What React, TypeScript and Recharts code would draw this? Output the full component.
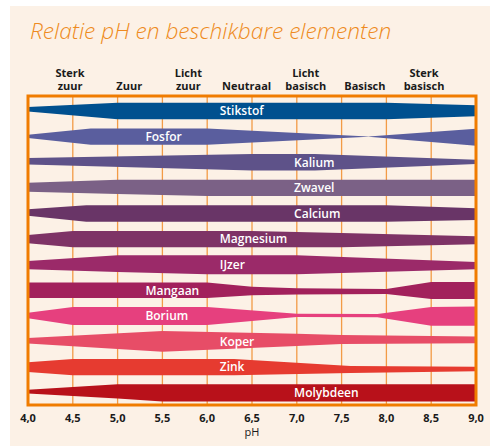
import React from 'react';
import { ComposedChart, Area, XAxis, YAxis, CartesianGrid, ReferenceArea, ReferenceDot } from 'recharts';

const phTicks = [4, 4.5, 5, 5.5, 6, 6.5, 7, 7.5, 8, 8.5, 9];
const zoneNames = [['Sterk', 'zuur'], ['Zuur'], ['Licht', 'zuur'], ['Neutraal'], ['Licht', 'basisch'], ['Basisch'], ['Sterk', 'basisch']];
const zonePH = [4.47, 5.13, 5.79, 6.44, 7.1, 7.76, 8.42];

const elements = ['Stikstof', 'Fosfor', 'Kalium', 'Zwavel', 'Calcium', 'Magnesium', 'IJzer', 'Mangaan', 'Borium', 'Koper', 'Zink', 'Molybdeen'];
const labelPH = [6.14, 5.31, 6.97, 6.97, 6.97, 6.14, 6.14, 5.31, 5.31, 6.14, 6.14, 6.97];
const colors = ['#00508f', '#5a5e9e', '#5e5289', '#7b6186', '#693567', '#7e3366', '#9b2a69', '#a2215c', '#e6407e', '#e74d67', '#e63b30', '#b8111a'];

// availability: [pH, upper half, lower half] (1 = full band)
const stikstof = [[4, 0.5, 0.05], [5, 1, 1], [8, 1, 1], [9, 0.7, 0.65]];
const fosfor = [[4, 0.22, 0.18], [4.7, 1, 1], [6, 1, 1], [7.8, 0.03, 0.03], [9, 0.95, 1.1]];
const kalium = [[4, 0.53, 0.28], [6.5, 1, 1], [7.2, 1, 1], [9, 0.3, 0.22]];
const zwavel = [[4, 0.62, 0.48], [5, 1, 0.75], [6, 1, 1], [9, 1, 1]];
const calcium = [[4, 0.5, 0.27], [4.65, 1, 1], [8, 1, 1], [9, 0.65, 0.8]];
const magnesium = [[4, 0.5, 0.5], [4.5, 1, 1], [6.5, 1, 1], [7.5, 0.75, 1], [9, 0.35, 0.62]];
const ijzer = [[4, 0.46, 0.55], [5, 1.15, 0.9], [6, 1.15, 1.15], [7, 1.15, 1.15], [9, 0.34, 0.55]];
const mangaan = [[4, 0.95, 0.95], [6, 0.95, 0.95], [6.5, 0.45, 0.6], [7, 0.25, 0.5], [8, 0.15, 0.45], [8.5, 1, 1.05], [9, 1, 1.05]];
const borium = [[4, 0.4, 0.28], [4.5, 1.1, 1.1], [6, 1.1, 1.1], [7, 0.28, 0.12], [7.9, 0.25, 0.15], [8.5, 1.1, 1.2], [9, 1.15, 1.2]];
const koper = [[4, 0.43, 0.23], [5.5, 1.3, 1.25], [7, 0.95, 0.55], [7.5, 0.8, 0.3], [9, 0.62, 0.2]];
const zink = [[4, 0.6, 0.6], [4.5, 1, 1], [6.3, 1, 1], [7.6, 0.15, 0.7], [9, 0.05, 0.5]];
const molybdeen = [[4, 0.38, 0.1], [5, 1.05, 0.7], [5.5, 1.05, 1.05], [9, 1.05, 1.05]];

const series = [stikstof, fosfor, kalium, zwavel, calcium, magnesium, ijzer, mangaan, borium, koper, zink, molybdeen];

const FONT = "'Open Sans', 'Noto Sans', sans-serif";
const HALF = 0.32; // half band height in row units
const Y_DOMAIN = [-0.477, elements.length - 1 + 0.586];

const ZoneLabel = (props: any) => {
  const { viewBox, lines } = props;
  if (!viewBox) return null;
  const x = viewBox.x + (viewBox.width || 0) / 2;
  const base = viewBox.y - 6;
  return (
    <g>
      {lines.map((l: string, i: number) => (
        <text
          key={i}
          x={x}
          y={base - (lines.length - 1 - i) * 13}
          textAnchor="middle"
          fontFamily={FONT}
          fontSize={11}
          fontWeight={700}
          fill="#1a1a1a"
        >
          {l}
        </text>
      ))}
    </g>
  );
};

const PhTick = (props: any) => {
  const { x, y, payload } = props;
  return (
    <text x={x} y={y + 9} textAnchor="middle" fontFamily={FONT} fontSize={11} fontWeight={700} fill="#1a1a1a">
      {payload.value.toFixed(1).replace('.', ',')}
    </text>
  );
};

export default function App() {
  return (
    <div style={{ position: 'absolute', left: 10, top: 6, width: 480, height: 440, background: '#fcf1e6' }}>
      <div
        style={{
          position: 'absolute',
          left: 20,
          top: 14,
          fontFamily: FONT,
          fontStyle: 'italic',
          fontWeight: 300,
          fontSize: 22.7,
          lineHeight: 1,
          color: '#ee8a20',
          whiteSpace: 'nowrap',
        }}
      >
        Relatie pH en beschikbare elementen
      </div>
      <div style={{ position: 'absolute', left: 0, top: 0 }}>
        <ComposedChart width={480} height={440} margin={{ top: 90, right: 14, bottom: 11, left: 18 }}>
          <XAxis
            xAxisId="ph"
            dataKey="ph"
            type="number"
            domain={[4, 9]}
            ticks={phTicks}
            interval={0}
            height={30}
            axisLine={false}
            tickLine={false}
            tick={<PhTick />}
            label={{ value: 'pH', position: 'insideBottom', offset: -1, fontFamily: FONT, fontSize: 11, fill: '#1a1a1a' }}
          />
          <YAxis type="number" domain={Y_DOMAIN} hide />
          <CartesianGrid xAxisId="ph" horizontal={false} stroke="#f29b46" strokeWidth={1.3} />
          {series.map((pts, i) => {
            const c = elements.length - 1 - i;
            const rows = pts.map(([ph, up, down]) => ({ ph, band: [c - down * HALF, c + up * HALF] }));
            return (
              <Area
                key={elements[i]}
                xAxisId="ph"
                data={rows}
                dataKey="band"
                type="linear"
                stroke="none"
                fill={colors[i]}
                fillOpacity={1}
                dot={false}
                activeDot={false}
                isAnimationActive={false}
              />
            );
          })}
          <ReferenceArea
            xAxisId="ph"
            x1={4}
            x2={9}
            y1={Y_DOMAIN[0]}
            y2={Y_DOMAIN[1]}
            fill="none"
            stroke="#f07c00"
            strokeWidth={3}
            fillOpacity={0}
          />
          {elements.map((name, i) => (
            <ReferenceDot
              key={name}
              xAxisId="ph"
              x={labelPH[i]}
              y={elements.length - 1 - i}
              r={0}
              fill="none"
              stroke="none"
              label={{ value: name, position: 'right', offset: 0, fill: '#ffffff', fontSize: 12, fontWeight: 600, fontFamily: FONT }}
            />
          ))}
          {zonePH.map((ph, i) => (
            <ReferenceDot
              key={'zone' + i}
              xAxisId="ph"
              x={ph}
              y={Y_DOMAIN[1]}
              r={0}
              fill="none"
              stroke="none"
              ifOverflow="visible"
              label={<ZoneLabel lines={zoneNames[i]} />}
            />
          ))}
        </ComposedChart>
      </div>
    </div>
  );
}
